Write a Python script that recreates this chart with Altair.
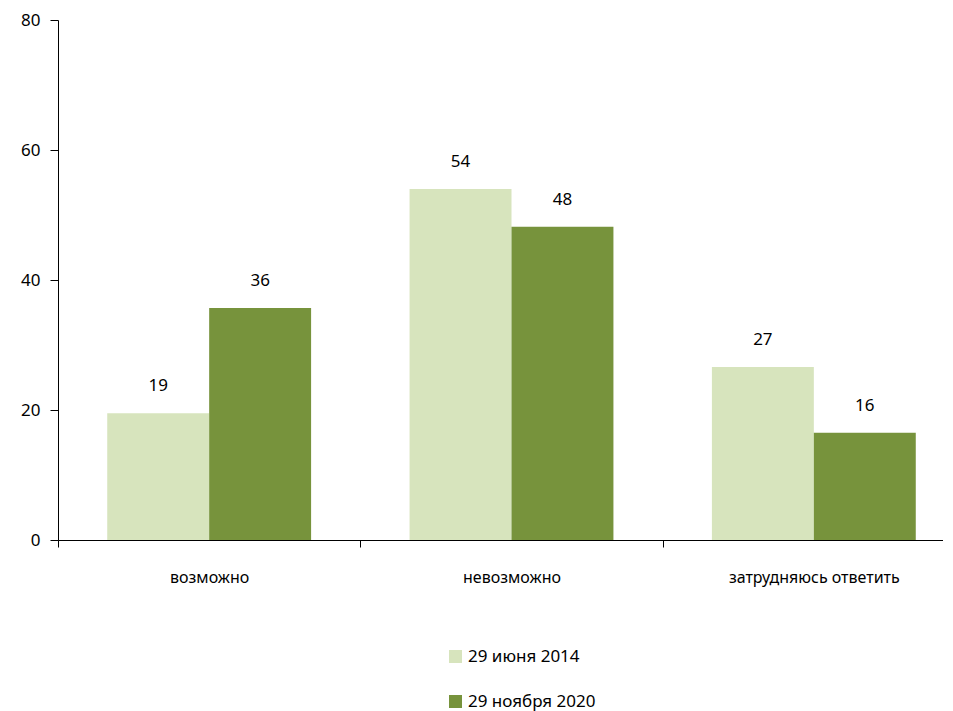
import altair as alt
import pandas as pd

categories = ["возможно", "невозможно", "затрудняюсь ответить"]
series = ["29 июня 2014", "29 ноября 2020"]
values_2014 = [19.5, 54.0, 26.6]
values_2020 = [35.7, 48.2, 16.5]
labels_2014 = ["19", "54", "27"]
labels_2020 = ["36", "48", "16"]
colors = ["#D7E4BD", "#77933C"]

rows = []
for c, v, l in zip(categories, values_2014, labels_2014):
    rows.append({"cat": c, "series": series[0], "value": v, "label": l})
for c, v, l in zip(categories, values_2020, labels_2020):
    rows.append({"cat": c, "series": series[1], "value": v, "label": l})
df = pd.DataFrame(rows)

FONT = "Noto Sans"

x = alt.X("cat:N", sort=categories, title=None,
          scale=alt.Scale(paddingInner=0, paddingOuter=0),
          axis=alt.Axis(labelAngle=0, tickBand="extent", tickSize=7,
                        labelPadding=22, labelFontSize=16, labelFont=FONT,
                        labelColor="#000", domainColor="#000", tickColor="#000",
                        labelFontWeight="normal"))
xo = alt.XOffset("series:N", sort=series,
                 scale=alt.Scale(paddingInner=0, paddingOuter=0.483))
y = alt.Y("value:Q", title=None,
          scale=alt.Scale(domain=[0, 80], nice=False),
          axis=alt.Axis(values=[0, 20, 40, 60, 80], grid=False, tickSize=8,
                        labelPadding=10, labelFontSize=17, labelFont=FONT,
                        labelColor="#000", domainColor="#000", tickColor="#000",
                        minExtent=45))

bars = alt.Chart(df).mark_bar().encode(
    x=x, xOffset=xo, y=y,
    color=alt.Color("series:N", sort=series,
                    scale=alt.Scale(domain=series, range=colors),
                    legend=alt.Legend(title=None, orient="none", legendX=389, legendY=628,
                                      symbolType="square", symbolSize=170,
                                      symbolStrokeWidth=0, labelFontSize=17,
                                      labelFont=FONT, labelColor="#000",
                                      rowPadding=27, labelOffset=4)),
)

text = alt.Chart(df).mark_text(dy=-27, fontSize=17, font=FONT, color="#000").encode(
    x=alt.X("cat:N", sort=categories), xOffset=xo,
    y=alt.Y("value:Q"), text="label:N",
)

chart = alt.layer(bars, text).properties(
    width=907, height=520,
    autosize=alt.AutoSizeParams(type="none"),
    padding={"left": 50, "top": 12, "right": -22, "bottom": 171},
).configure_view(stroke=None)

chart.save("out.html", embed_options={"renderer": "svg", "actions": False})
